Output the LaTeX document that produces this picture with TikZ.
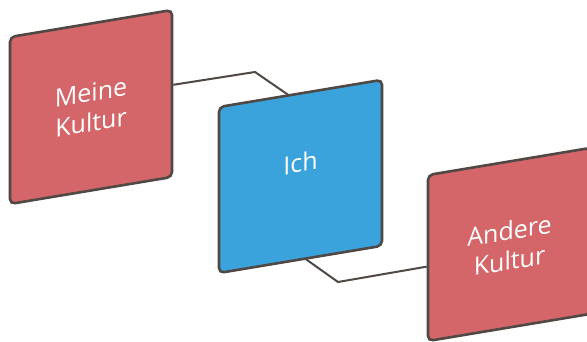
\documentclass[tikz,border=0pt]{standalone}
\usepackage{fontspec}
\newfontfamily\labfont{Open Sans}
\usetikzlibrary{calc}
\definecolor{boxred}{RGB}{212,102,105}
\definecolor{boxblue}{RGB}{58,163,220}
\definecolor{edgec}{RGB}{80,72,68}
\begin{document}
\begin{tikzpicture}[x=1pt,y=1pt,
  card/.style={draw=edgec, line width=2.6pt, rounded corners=5pt, minimum width=163pt, minimum height=166pt, inner sep=0pt, transform shape},
  lab/.style={text=white, font=\labfont\fontsize{25}{30}\selectfont, align=center, transform shape, inner sep=0pt},
  link/.style={draw=edgec, line width=2pt, line join=miter}]
\useasboundingbox (0,0) rectangle (587,342);
\clip (0,0) rectangle (587,342);
% Meine Kultur
\begin{scope}[shift={(10,138)}, yslant=0.1667]
  \node[card, fill=boxred, minimum width=162pt, minimum height=167pt] (mine) at (81,83.5) {};
  \node[lab] (mineT) at (81,83) {Meine\\Kultur};
\end{scope}
% Andere Kultur
\begin{scope}[shift={(428,1)}, yslant=0.1667]
  \node[card, fill=boxred] (other) at (81.5,83) {};
  \node[lab] (otherT) at (81.5,82) {Andere\\Kultur};
\end{scope}
% connectors (passing behind the middle card)
\coordinate (a1) at (255,270);
\coordinate (a2) at (300,239);
\coordinate (b1) at (300,87);
\coordinate (b2) at (338,60);
\draw[link] ($(mine.north east)!0.45!(mine.south east)$) -- (a1) -- (a2);
\draw[link] (b1) -- (b2) -- ($(other.north west)!0.55!(other.south west)$);
% Ich
\begin{scope}[shift={(219,69)}, yslant=0.1667]
  \node[card, fill=boxblue] (ich) at (81.5,83) {};
  \node[lab] (ichT) at (81.5,96.5) {Ich};
\end{scope}
\end{tikzpicture}
\end{document}
